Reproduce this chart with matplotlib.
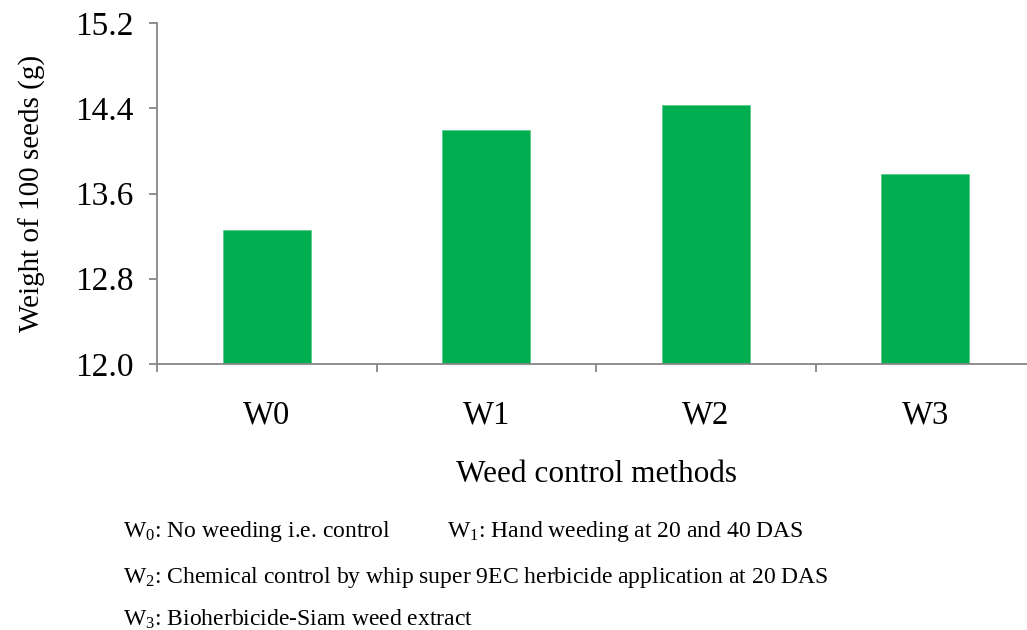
import matplotlib
matplotlib.use("Agg")
import matplotlib.pyplot as plt

# Weight of 100 seeds by weed control method
categories = ["W0", "W1", "W2", "W3"]
weights = [13.26, 14.20, 14.43, 13.78]
y_ticks = [12.0, 12.8, 13.6, 14.4, 15.2]

plt.rcParams["font.family"] = ["Liberation Serif", "DejaVu Serif"]
plt.rcParams["mathtext.fontset"] = "custom"
plt.rcParams["mathtext.rm"] = "Liberation Serif"
plt.rcParams["mathtext.it"] = "Liberation Serif:italic"
plt.rcParams["mathtext.bf"] = "Liberation Serif:bold"

fig = plt.figure(figsize=(10.27, 6.30), dpi=100)
ax = fig.add_axes([157 / 1027, 1 - 364 / 630, 878 / 1027, 341 / 630])

axis_grey = "#868686"
x = list(range(len(categories)))
ax.bar(x, weights, width=0.4, color="#00AE4F", edgecolor="#5FCB8A", linewidth=0.6,
       zorder=2)

ax.set_ylim(12.0, 15.2)
ax.set_xlim(-0.5, len(categories) - 0.5)
ax.set_yticks(y_ticks)
ax.set_yticklabels([f"{v:.1f}" for v in y_ticks])

# category boundaries carry the tick marks, labels sit at the centres
ax.set_xticks([i - 0.5 for i in range(len(categories) + 1)])
ax.set_xticklabels([""] * (len(categories) + 1))
ax.set_xticks(x, minor=True)
ax.set_xticklabels(categories, minor=True)

for side in ("top", "right"):
    ax.spines[side].set_visible(False)
for side in ("left", "bottom"):
    ax.spines[side].set_color(axis_grey)
    ax.spines[side].set_linewidth(1.3)

ax.tick_params(axis="y", which="major", direction="out", length=6, width=1.3,
               color=axis_grey, labelsize=24, pad=11)
ax.tick_params(axis="x", which="major", direction="out", length=6, width=1.3,
               color=axis_grey)
ax.tick_params(axis="x", which="minor", length=0, labelsize=23.5, pad=26)

ax.set_ylabel("Weight of 100 seeds (g)", fontsize=21, labelpad=21)
ax.set_xlabel("Weed control methods", fontsize=22.5, labelpad=21)

# footnote describing the treatments
note_size = 17
fig.text(123 / 1027, 1 - 532 / 630, r"W$_0$: No weeding i.e. control",
         fontsize=note_size, va="center", ha="left")
fig.text(447 / 1027, 1 - 532 / 630, r"W$_1$: Hand weeding at 20 and 40 DAS",
         fontsize=note_size, va="center", ha="left")
fig.text(123 / 1027, 1 - 577 / 630,
         r"W$_2$: Chemical control by whip super 9EC herbicide application at 20 DAS",
         fontsize=note_size, va="center", ha="left")
fig.text(123 / 1027, 1 - 619 / 630, r"W$_3$: Bioherbicide-Siam weed extract",
         fontsize=note_size, va="center", ha="left")

fig.savefig("out.png", dpi=100, facecolor="white")
